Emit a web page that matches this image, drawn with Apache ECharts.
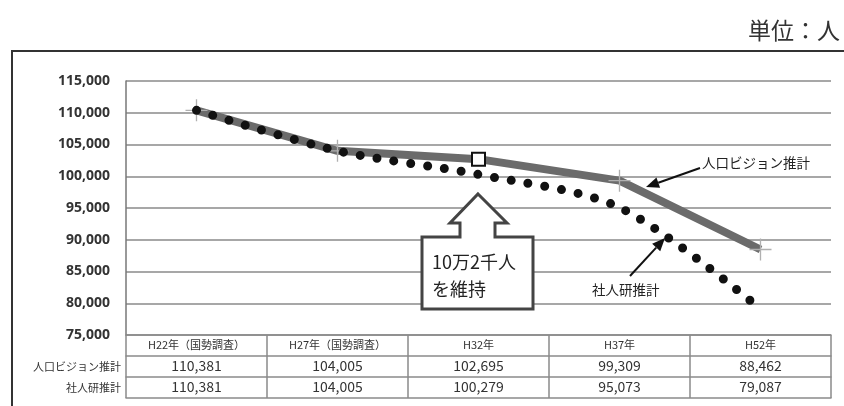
<!DOCTYPE html>
<html>
<head>
<meta charset="utf-8">
<script src="https://cdn.jsdelivr.net/npm/echarts@6/dist/echarts.min.js"></script>
<style>
html,body{margin:0;padding:0;background:#fff;}
#chart{width:844px;height:406px;}
</style>
</head>
<body>
<div id="chart"></div>
<script>
const categories = ['H22年（国勢調査）', 'H27年（国勢調査）', 'H32年', 'H37年', 'H52年'];
const visionValues = [110381, 104005, 102695, 99309, 88462];
const ipssValues = [110381, 104005, 100279, 95073, 79087];
const rowLabels = ['人口ビジョン推計', '社人研推計'];
const yTicks = { min: 75000, max: 115000, interval: 5000 };
const unitText = '単位：人';
const calloutLines = ['10万2千人', 'を維持'];
const highlightIndex = 2;

const JP = '"Noto Sans CJK JP", "Noto Sans", sans-serif';
const fmt = v => v.toLocaleString('en-US');

const chart = echarts.init(document.getElementById('chart'));

function tableAxis(data, offset, showLabel, showTick) {
  return {
    type: 'category',
    data: data,
    position: 'bottom',
    offset: offset,
    boundaryGap: true,
    axisLine: { show: true, lineStyle: { color: '#8a8a8a', width: 1.5 } },
    axisTick: { show: showTick, length: 21, interval: 0, lineStyle: { color: '#8a8a8a', width: 1.5 } },
    axisLabel: {
      show: showLabel, interval: 0, margin: 10, verticalAlign: 'middle',
      fontFamily: JP, fontSize: offset === 0 ? 11 : 14, color: '#333'
    },
    splitLine: { show: false }
  };
}

const plus = 'path://M9.4,0h1.2v20h-1.2zM0,9.4h20v1.2H0z';

function arrowGraphic(x1, y1, x2, y2) {
  const ang = Math.atan2(y2 - y1, x2 - x1);
  const L = 13, W = 5.5;
  const bx = x2 - L * Math.cos(ang), by = y2 - L * Math.sin(ang);
  const px = -Math.sin(ang) * W, py = Math.cos(ang) * W;
  return [
    { type: 'line', shape: { x1: x1, y1: y1, x2: bx, y2: by }, style: { stroke: '#111', lineWidth: 2 }, z: 100 },
    { type: 'polygon', shape: { points: [[x2, y2], [bx + px, by + py], [bx - px, by - py]] }, style: { fill: '#111' }, z: 100 }
  ];
}

const option = {
  animation: false,
  backgroundColor: '#fff',
  grid: { left: 126, right: 13, top: 81, bottom: 71, containLabel: false },
  xAxis: [
    tableAxis(categories, 0, true, true),
    tableAxis(visionValues.map(fmt), 21, true, true),
    tableAxis(ipssValues.map(fmt), 42, true, true),
    tableAxis(categories, 63, false, false)
  ],
  yAxis: {
    type: 'value',
    min: yTicks.min, max: yTicks.max, interval: yTicks.interval,
    axisLine: { show: true, lineStyle: { color: '#777', width: 1.5 } },
    axisTick: { show: false },
    axisLabel: {
      margin: 16, fontFamily: '"Noto Sans", sans-serif', fontWeight: 'bold', fontSize: 14, color: '#333',
      formatter: v => fmt(v)
    },
    splitLine: { show: true, lineStyle: { color: '#8a8a8a', width: 1.5 } }
  },
  series: [
    {
      name: rowLabels[0],
      type: 'line',
      xAxisIndex: 0,
      data: visionValues.map((v, i) => i === highlightIndex
        ? { value: v, symbol: 'rect', symbolSize: 13, itemStyle: { color: '#fff', borderColor: '#111', borderWidth: 2 } }
        : { value: v, symbol: plus, symbolSize: 22, itemStyle: { color: '#b0b0b0' } }),
      showSymbol: true,
      lineStyle: { color: '#6b6b6b', width: 8 },
      z: 2
    },
    {
      name: rowLabels[1],
      type: 'line',
      xAxisIndex: 0,
      data: ipssValues,
      smooth: 0.3,
      symbol: 'none',
      lineStyle: { color: '#111', width: 9, type: [0, 17], cap: 'round' },
      z: 3
    }
  ],
  graphic: [
    { type: 'rect', shape: { x: 12, y: 51, width: 860, height: 420 }, style: { fill: 'none', stroke: '#333', lineWidth: 2 }, z: 100 },
    { type: 'text', x: 840, y: 30, style: { text: unitText, fontFamily: JP, fontSize: 23, fill: '#333', align: 'right', verticalAlign: 'middle' }, z: 100 },
    { type: 'text', x: 121, y: 367, style: { text: rowLabels[0], fontFamily: JP, fontSize: 11, fill: '#333', align: 'right', verticalAlign: 'middle' }, z: 100 },
    { type: 'text', x: 121, y: 388, style: { text: rowLabels[1], fontFamily: JP, fontSize: 11, fill: '#333', align: 'right', verticalAlign: 'middle' }, z: 100 },
    {
      type: 'polygon',
      shape: { points: [[478, 194], [507, 223], [495, 223], [495, 237], [533, 237], [533, 309], [422, 309], [422, 237], [460, 237], [460, 223], [450, 223]] },
      style: { fill: '#fff', stroke: '#444', lineWidth: 3, lineJoin: 'miter' },
      z: 100
    },
    { type: 'text', x: 432, y: 262, style: { text: calloutLines[0], fontFamily: JP, fontSize: 18, fill: '#222', align: 'left', verticalAlign: 'middle' }, z: 101 },
    { type: 'text', x: 432, y: 289, style: { text: calloutLines[1], fontFamily: JP, fontSize: 18, fill: '#222', align: 'left', verticalAlign: 'middle' }, z: 101 },
    { type: 'text', x: 702, y: 163, style: { text: rowLabels[0], fontFamily: JP, fontSize: 13.5, fill: '#222', align: 'left', verticalAlign: 'middle' }, z: 101 },
    { type: 'text', x: 592, y: 290, style: { text: rowLabels[1], fontFamily: JP, fontSize: 13.5, fill: '#222', align: 'left', verticalAlign: 'middle' }, z: 101 }
  ].concat(arrowGraphic(700, 168, 646, 187), arrowGraphic(630, 276, 665, 238))
};

chart.setOption(option);
</script>
</body>
</html>
